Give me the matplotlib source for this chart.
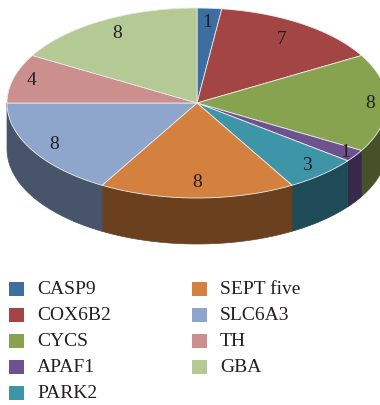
"""3D-style pie of gene counts with a two-column legend"""

import numpy as np
import matplotlib.pyplot as plt
from matplotlib.patches import Polygon, Rectangle

genes = ['CASP9', 'COX6B2', 'CYCS', 'APAF1', 'PARK2',
         'SEPT five', 'SLC6A3', 'TH', 'GBA']
counts = [1, 7, 8, 1, 3, 8, 8, 4, 8]
top_colors = ['#3d6ea2', '#a34545', '#87a34f', '#6e5290', '#3f95a8',
              '#d4813f', '#8fa6cc', '#cb8f8e', '#b4c993']
side_colors = ['#263f5c', '#5e2626', '#46512a', '#38284a', '#1f4b59',
               '#6a401f', '#48546a', '#6e4a4a', '#5f6a4a']
# how far out along each wedge its number sits (fraction of the radius)
label_r = [0.85, 0.8, 0.91, 0.94, 0.88, 0.84, 0.87, 0.9, 0.84]

# ellipse geometry in pixel units
cx, cy = 197, 103
rx, ry = 190, 95
depth = 46


def rim(theta, r=1.0):
    """point on the top ellipse, theta measured clockwise from 12 o'clock"""
    return cx + r * rx * np.sin(theta), cy - r * ry * np.cos(theta)


fig = plt.figure(figsize=(3.8, 4.05), dpi=100)
ax = fig.add_axes([0, 0, 1, 1])
ax.set_xlim(0, 380)
ax.set_ylim(405, 0)
ax.axis('off')

total = sum(counts)
edges = np.concatenate([[0], np.cumsum(counts)]) / total * 2 * np.pi

# side walls first: only the front half (90..270 deg) is visible
for i in range(len(counts)):
    t0 = max(edges[i], np.pi / 2)
    t1 = min(edges[i + 1], 3 * np.pi / 2)
    if t1 <= t0:
        continue
    t = np.linspace(t0, t1, 60)
    x, y = rim(t)
    pts = np.column_stack([np.r_[x, x[::-1]], np.r_[y, y[::-1] + depth]])
    ax.add_patch(Polygon(pts, closed=True, facecolor=side_colors[i],
                         edgecolor=side_colors[i], linewidth=0.5))

# top face wedges
for i in range(len(counts)):
    t = np.linspace(edges[i], edges[i + 1], 80)
    x, y = rim(t)
    pts = np.column_stack([np.r_[cx, x], np.r_[cy, y]])
    ax.add_patch(Polygon(pts, closed=True, facecolor=top_colors[i],
                         edgecolor='#e8e8e8', linewidth=0.6))

# value labels
for i, n in enumerate(counts):
    mid = (edges[i] + edges[i + 1]) / 2
    x, y = rim(mid, label_r[i])
    ax.text(x, y, str(n), ha='center', va='center', fontsize=14,
            family='Liberation Serif', color='#231f20')

# legend, filled down the first column then the second
for i, (name, col) in enumerate(zip(genes, top_colors)):
    column, row = divmod(i, 5)
    x0 = 9 + column * 183
    y0 = 289 + row * 26
    ax.add_patch(Rectangle((x0, y0 - 7), 15, 14, facecolor=col,
                           edgecolor='none'))
    ax.text(x0 + 28, y0, name, ha='left', va='center', fontsize=14,
            family='Liberation Serif', color='#231f20')

fig.savefig('out.png', dpi=100)
plt.close()
